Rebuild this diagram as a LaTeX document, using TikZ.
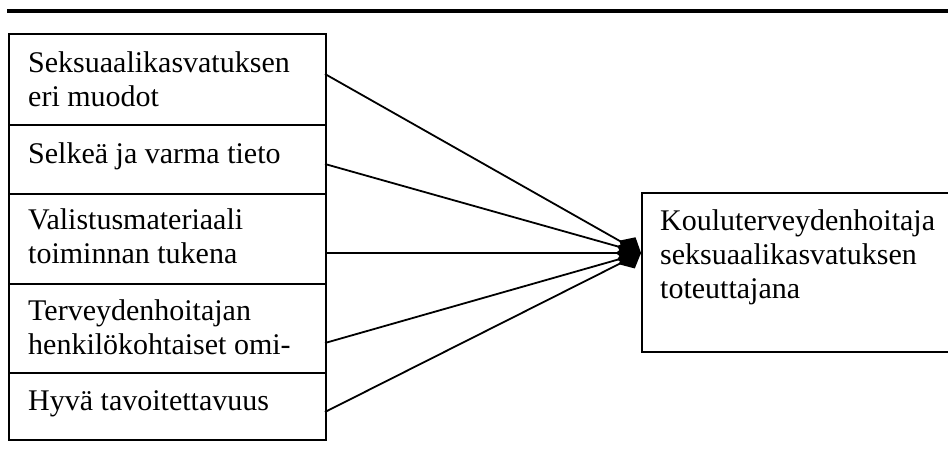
\documentclass[tikz,border=0pt]{standalone}
\usepackage{fontspec}
\setmainfont{Liberation Serif}
\usetikzlibrary{arrows.meta}
\begin{document}
\begin{tikzpicture}[x=1pt,y=-1pt,
  box/.style={draw,line width=1.8pt,rectangle,inner sep=0pt,anchor=north west},
  lbl/.style={inner sep=0pt,anchor=base west,font=\fontsize{30}{34}\selectfont},
  link/.style={line width=1.8pt,-{Diamond[length=25pt,width=22pt]}},
  rule/.style={line width=4pt}]
\useasboundingbox (0,0) rectangle (948,463);
% heading rule
\coordinate (rl) at (7,11);
\coordinate (rr) at (960,11);
\draw[rule] (rl) -- (rr);
% factor boxes
\node[box,minimum width=317pt,minimum height=91pt] (b1) at (8,33) {};
\node[box,minimum width=317pt,minimum height=69pt] (b2) at (8,124) {};
\node[box,minimum width=317pt,minimum height=90pt] (b3) at (8,193) {};
\node[box,minimum width=317pt,minimum height=89pt] (b4) at (8,283) {};
\node[box,minimum width=317pt,minimum height=67pt] (b5) at (8,372) {};
\node[lbl] (t1a) at (28,72) {Seksuaalikasvatuksen};
\node[lbl] (t1b) at (28,106) {eri muodot};
\node[lbl] (t2) at (28,163) {Selkeä ja varma tieto};
\node[lbl] (t3a) at (28,229) {Valistusmateriaali};
\node[lbl] (t3b) at (28,263) {toiminnan tukena};
\node[lbl] (t4a) at (28,320) {Terveydenhoitajan};
\node[lbl] (t4b) at (28,354) {henkilökohtaiset omi-};
\node[lbl] (t5) at (28,410) {Hyvä tavoitettavuus};
% target box
\node[box,minimum width=330pt,minimum height=159pt] (k) at (641,192) {};
\node[lbl] (ka) at (660,230) {Kouluterveydenhoitaja};
\node[lbl] (kb) at (660,264) {seksuaalikasvatuksen};
\node[lbl] (kc) at (660,298) {toteuttajana};
% connector start points on the boxes' right side
\coordinate (s1) at (325,74);
\coordinate (s2) at (325,164);
\coordinate (s3) at (325,253);
\coordinate (s4) at (325,343);
\coordinate (s5) at (325,412);
\coordinate (e) at (k.west |- s3);
\foreach \s in {s1,s2,s3,s4,s5} \draw[link] (\s) -- (e);
\end{tikzpicture}
\end{document}
